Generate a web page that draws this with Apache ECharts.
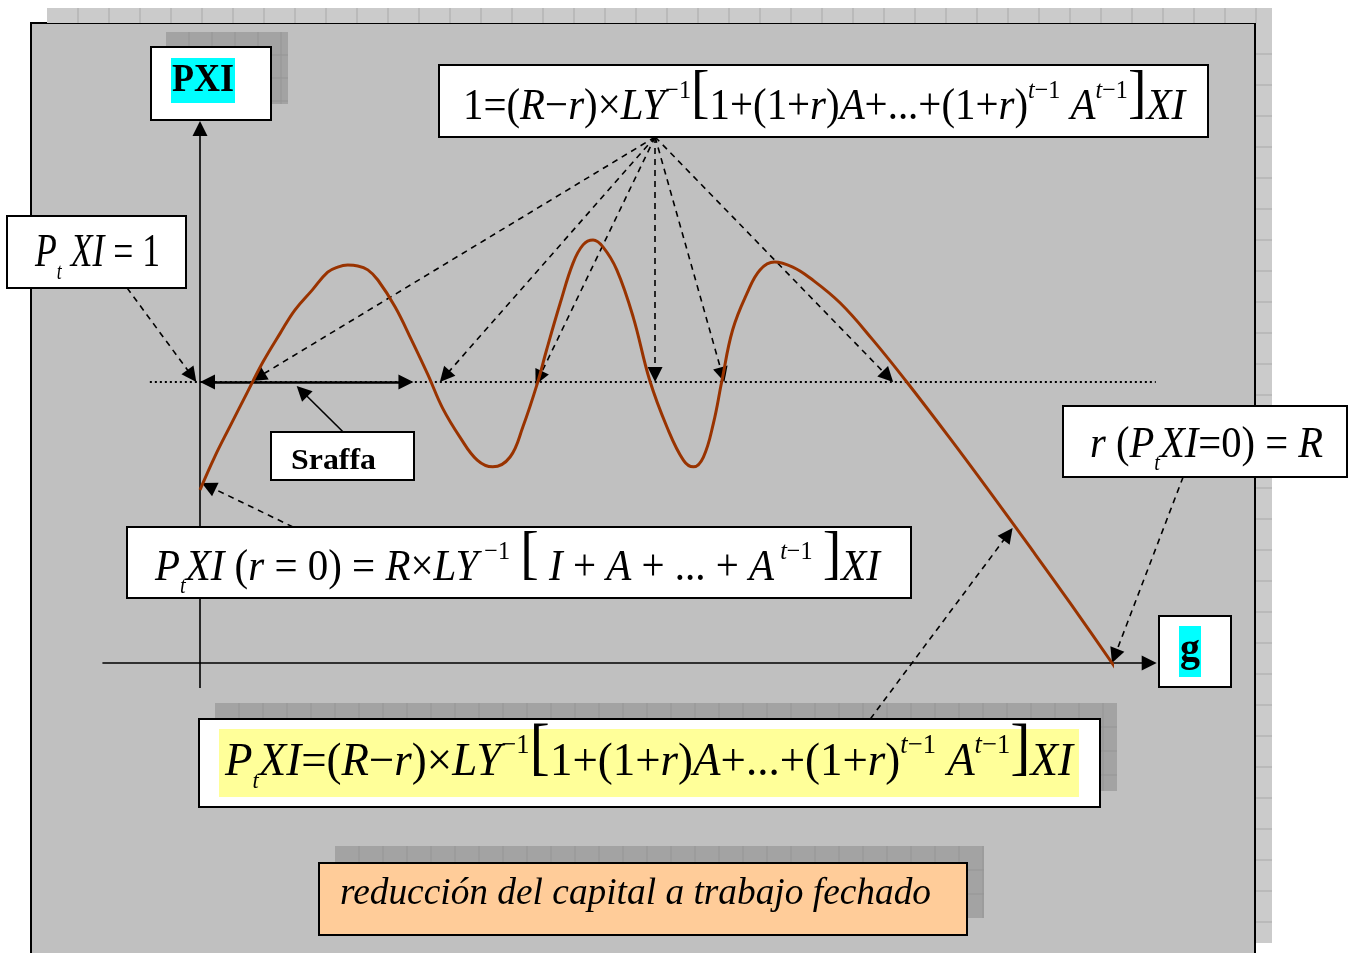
<!DOCTYPE html>
<html>
<head>
<meta charset="utf-8">
<script src="https://cdn.jsdelivr.net/npm/echarts@6/dist/echarts.min.js"></script>
<style>
  html, body { margin: 0; padding: 0; background: #fff; }
  #chart { width: 1356px; height: 953px; }
</style>
</head>
<body>
<div id="chart"></div>
<script>
// curva PXI(g): eje x = g (R = 1), eje y = PXI (linea punteada = 1)
const curveX = [0.000, 0.016, 0.033, 0.052, 0.069, 0.088, 0.104, 0.123, 0.140, 0.151, 0.162, 0.173,
  0.184, 0.195, 0.214, 0.232, 0.250, 0.266, 0.285, 0.304, 0.321, 0.340, 0.354, 0.370, 0.380, 0.395,
  0.409, 0.420, 0.431, 0.442, 0.457, 0.475, 0.493, 0.512, 0.530, 0.541, 0.552, 0.563, 0.572, 0.584,
  0.600, 0.614, 0.630, 0.650, 0.669, 0.702, 0.738, 0.775, 0.822, 0.866, 0.910, 0.954, 1.000, 1.023];
const curveY = [0.616, 0.733, 0.843, 0.964, 1.071, 1.174, 1.256, 1.327, 1.391, 1.409, 1.416, 1.413,
  1.399, 1.363, 1.267, 1.149, 1.025, 0.907, 0.804, 0.722, 0.698, 0.733, 0.840, 0.996, 1.114, 1.281,
  1.423, 1.488, 1.505, 1.480, 1.399, 1.231, 1.007, 0.840, 0.722, 0.698, 0.733, 0.854, 1.000, 1.185,
  1.317, 1.399, 1.427, 1.409, 1.370, 1.281, 1.149, 1.000, 0.801, 0.609, 0.413, 0.214, 0.000, -0.107];

// ejes con flecha y nivel PXI = 1
const axisPXI = [[0, -0.089], [0, 1.929]];
const axisG = [[-0.107, 0], [1.049, 0]];
const levelOne = [[-0.055, 1], [1.048, 1]];
const sraffaSpan = [[0, 1], [0.234, 1]];
const sraffaPointer = [[0.157, 0.822], [0.106, 0.986]];

// flechas desde la ecuacion superior hacia los cortes con PXI = 1
const topSource = [0.499, 1.872];
const topTargets = [[0.057, 1.004], [0.263, 1.0], [0.368, 0.99], [0.499, 1.0], [0.575, 1.0], [0.760, 1.0]];
// otras flechas punteadas
const otherPointers = [
  [[-0.080, 1.335], [-0.004, 1.0]],
  [[0.102, 0.484], [0.002, 0.641]],
  [[1.078, 0.662], [1.0, 0.0]],
  [[0.735, -0.199], [0.891, 0.480]]
];

const GRID = { left: 200, top: 382, width: 912, height: 281 };
const HEAD = 15;
const serif = '"Liberation Serif", "Times New Roman", serif';

// retrasa el extremo para que la punta del triangulo caiga en el punto
function pull(a, b, px) {
  const dx = (b[0] - a[0]) * GRID.width, dy = (b[1] - a[1]) * GRID.height;
  const len = Math.sqrt(dx * dx + dy * dy);
  const k = px / len;
  return [b[0] - (b[0] - a[0]) * k, b[1] - (b[1] - a[1]) * k];
}
function arrow(p) { return { coords: [p[0], pull(p[0], p[1], HEAD / 2)] }; }
function dbl(p) { return { coords: [pull(p[1], p[0], HEAD / 2), pull(p[0], p[1], HEAD / 2)] }; }

function mathRich(fs) {
  const base = { fontFamily: serif, fill: '#000', verticalAlign: 'bottom' };
  const s = fs * 0.59, b = fs * 1.36;
  const tok = (extra) => Object.assign({}, base, extra);
  return {
    n: tok({ fontSize: fs, lineHeight: fs, padding: [0, 0, fs * 0.292, 0] }),
    i: tok({ fontSize: fs, lineHeight: fs, fontStyle: 'italic', padding: [0, 0, fs * 0.292, 0] }),
    bd: tok({ fontSize: fs, lineHeight: fs, fontWeight: 'bold', padding: [0, 0, fs * 0.292, 0] }),
    sup: tok({ fontSize: s, lineHeight: s, padding: [0, 0, fs * 0.859, 0] }),
    supi: tok({ fontSize: s, lineHeight: s, fontStyle: 'italic', padding: [0, 0, fs * 0.859, 0] }),
    subi: tok({ fontSize: s * 0.85, lineHeight: s * 0.85, fontStyle: 'italic', padding: [0, 0, fs * 0.12, 0] }),
    br: tok({ fontSize: b, lineHeight: b, padding: [0, 0, fs * 0.37, 0] })
  };
}

const measureCtx = document.createElement('canvas').getContext('2d');
function richWidth(text, rich) {
  const re = /\{(\w+)\|([^}]*)\}/g;
  let w = 0, m;
  while ((m = re.exec(text))) {
    const st = rich[m[1]];
    measureCtx.font = (st.fontStyle || 'normal') + ' ' + (st.fontWeight || 'normal') + ' ' + st.fontSize + 'px ' + st.fontFamily;
    w += measureCtx.measureText(m[2]).width;
  }
  return w;
}

// texto ajustado entre x0 y x1 con linea base en y
function fitLabel(x0, x1, baseline, fs, text) {
  const rich = mathRich(fs);
  const sx = (x1 - x0) / richWidth(text, rich);
  return {
    type: 'text', x: (x0 + x1) / 2, y: baseline + fs * 0.4545, scaleX: sx, z: 60,
    style: { text: text, align: 'center', verticalAlign: 'bottom', rich: rich }
  };
}

function box(x, y, w, h, fill) {
  return {
    type: 'rect', z: 50,
    shape: { x: x, y: y, width: w, height: h },
    style: { fill: fill || '#fff', stroke: '#000', lineWidth: 2 }
  };
}

function hatch(x, y, w, h, fill, line, step, vert, horiz) {
  const items = [{ type: 'rect', z: -5, shape: { x: x, y: y, width: w, height: h }, style: { fill: fill } }];
  if (vert) for (let px = x + step; px < x + w; px += step) {
    items.push({ type: 'line', z: -4, shape: { x1: px, y1: y, x2: px, y2: y + h }, style: { stroke: line, lineWidth: 1 } });
  }
  if (horiz) for (let py = y + step; py < y + h; py += step) {
    items.push({ type: 'line', z: -4, shape: { x1: x, y1: py, x2: x + w, y2: py }, style: { stroke: line, lineWidth: 1 } });
  }
  return items;
}

const graphics = [].concat(
  hatch(47, 8, 1225, 15, '#cbcbcb', '#a9a9a9', 31, true, false),
  hatch(1256, 23, 16, 920, '#cbcbcb', '#a9a9a9', 31, false, true),
  [{ type: 'rect', z: -6, shape: { x: 31, y: 23, width: 1224, height: 940 }, style: { fill: '#c0c0c0', stroke: '#000', lineWidth: 2 } }],
  hatch(166, 32, 122, 72, '#a3a3a3', '#959595', 23, true, true),
  hatch(215, 703, 902, 88, '#a3a3a3', '#959595', 24, true, true),
  hatch(335, 846, 649, 72, '#a3a3a3', '#959595', 24, true, true),
  [
    box(151, 47, 120, 73),
    { type: 'rect', z: 55, shape: { x: 171, y: 58, width: 64, height: 45 }, style: { fill: '#00ffff' } },
    fitLabel(172, 234, 94, 40, '{bd|PXI}'),

    box(1159, 616, 72, 71),
    { type: 'rect', z: 55, shape: { x: 1179, y: 626, width: 22, height: 51 }, style: { fill: '#00ffff' } },
    fitLabel(1180, 1200, 664, 42, '{bd|g}'),

    box(271, 432, 143, 48),
    fitLabel(291, 376, 471, 30, '{bd|Sraffa}'),

    box(439, 65, 769, 72),
    fitLabel(463, 1185, 122, 44, '{n|1=(}{i|R}{n|−}{i|r}{n|)×}{i|LY}{sup|−1}{br|[}{n|1+(1+}{i|r}{n|)}{i|A}{n|+...+(1+}{i|r}{n|)}{supi|t}{sup|−1}{n| }{i|A}{supi|t}{sup|−1}{br|]}{i|XI}'),

    box(7, 216, 179, 72),
    fitLabel(35, 160, 269, 46, '{i|P}{subi|t}{i| XI}{n| = 1}'),

    box(1063, 406, 284, 71),
    fitLabel(1090, 1323, 460, 44, '{i|r}{n| (}{i|P}{subi|t}{i|XI}{n|=0) = }{i|R}'),

    box(127, 527, 784, 71),
    fitLabel(155, 880, 583, 44, '{i|P}{subi|t}{i|XI }{n|(}{i|r}{n| = 0) = }{i|R}{n|×}{i|LY}{sup| −1}{n| }{br|[}{n| }{i|I}{n| + }{i|A}{n| + ... + }{i|A}{supi| t}{sup|−1}{n| }{br|]}{i|XI}'),

    box(199, 719, 901, 88),
    { type: 'rect', z: 55, shape: { x: 219, y: 729, width: 860, height: 68 }, style: { fill: '#ffff99' } },
    fitLabel(225, 1073, 778, 46, '{i|P}{subi|t}{i|XI}{n|=(}{i|R}{n|−}{i|r}{n|)×}{i|LY}{sup|−1}{br|[}{n|1+(1+}{i|r}{n|)}{i|A}{n|+...+(1+}{i|r}{n|)}{supi|t}{sup|−1}{n| }{i|A}{supi|t}{sup|−1}{br|]}{i|XI}'),

    box(319, 863, 648, 72, '#ffcc99'),
    fitLabel(340, 931, 907, 38, '{i|reducción del capital a trabajo fechado}')
  ]
);

const chart = echarts.init(document.getElementById('chart'), null, { renderer: 'canvas' });
chart.setOption({
  backgroundColor: '#ffffff',
  animation: false,
  grid: Object.assign({ show: false }, GRID),
  xAxis: { type: 'value', min: 0, max: 1, show: false },
  yAxis: { type: 'value', min: 0, max: 1, show: false },
  graphic: { elements: graphics },
  series: [
    {
      type: 'lines', coordinateSystem: 'cartesian2d', clip: false, z: 3, silent: true,
      symbol: ['none', 'triangle'], symbolSize: HEAD,
      lineStyle: { color: '#000', width: 1.6, type: 'solid', opacity: 1 },
      data: [arrow(axisPXI), arrow(axisG)]
    },
    {
      type: 'lines', coordinateSystem: 'cartesian2d', clip: false, z: 3, silent: true,
      symbol: ['none', 'none'],
      lineStyle: { color: '#000', width: 2, type: [2, 3], opacity: 1 },
      data: [{ coords: levelOne }]
    },
    {
      type: 'lines', coordinateSystem: 'cartesian2d', clip: false, z: 4, silent: true,
      symbol: ['triangle', 'triangle'], symbolSize: HEAD,
      lineStyle: { color: '#000', width: 2.5, type: 'solid', opacity: 1 },
      data: [dbl(sraffaSpan)]
    },
    {
      type: 'lines', coordinateSystem: 'cartesian2d', clip: false, z: 4, silent: true,
      symbol: ['none', 'triangle'], symbolSize: HEAD,
      lineStyle: { color: '#000', width: 1.6, type: 'solid', opacity: 1 },
      data: [arrow(sraffaPointer)]
    },
    {
      type: 'lines', coordinateSystem: 'cartesian2d', clip: false, z: 4, silent: true,
      symbol: ['none', 'triangle'], symbolSize: HEAD,
      lineStyle: { color: '#000', width: 1.6, type: [6, 5], opacity: 1 },
      data: topTargets.map(t => arrow([topSource, t])).concat(otherPointers.map(arrow))
    },
    {
      type: 'line', clip: false, z: 5, silent: true,
      showSymbol: false, smooth: 0.4,
      lineStyle: { color: '#993300', width: 3 },
      data: curveX.map((x, k) => [x, curveY[k]])
    }
  ]
});
</script>
</body>
</html>
